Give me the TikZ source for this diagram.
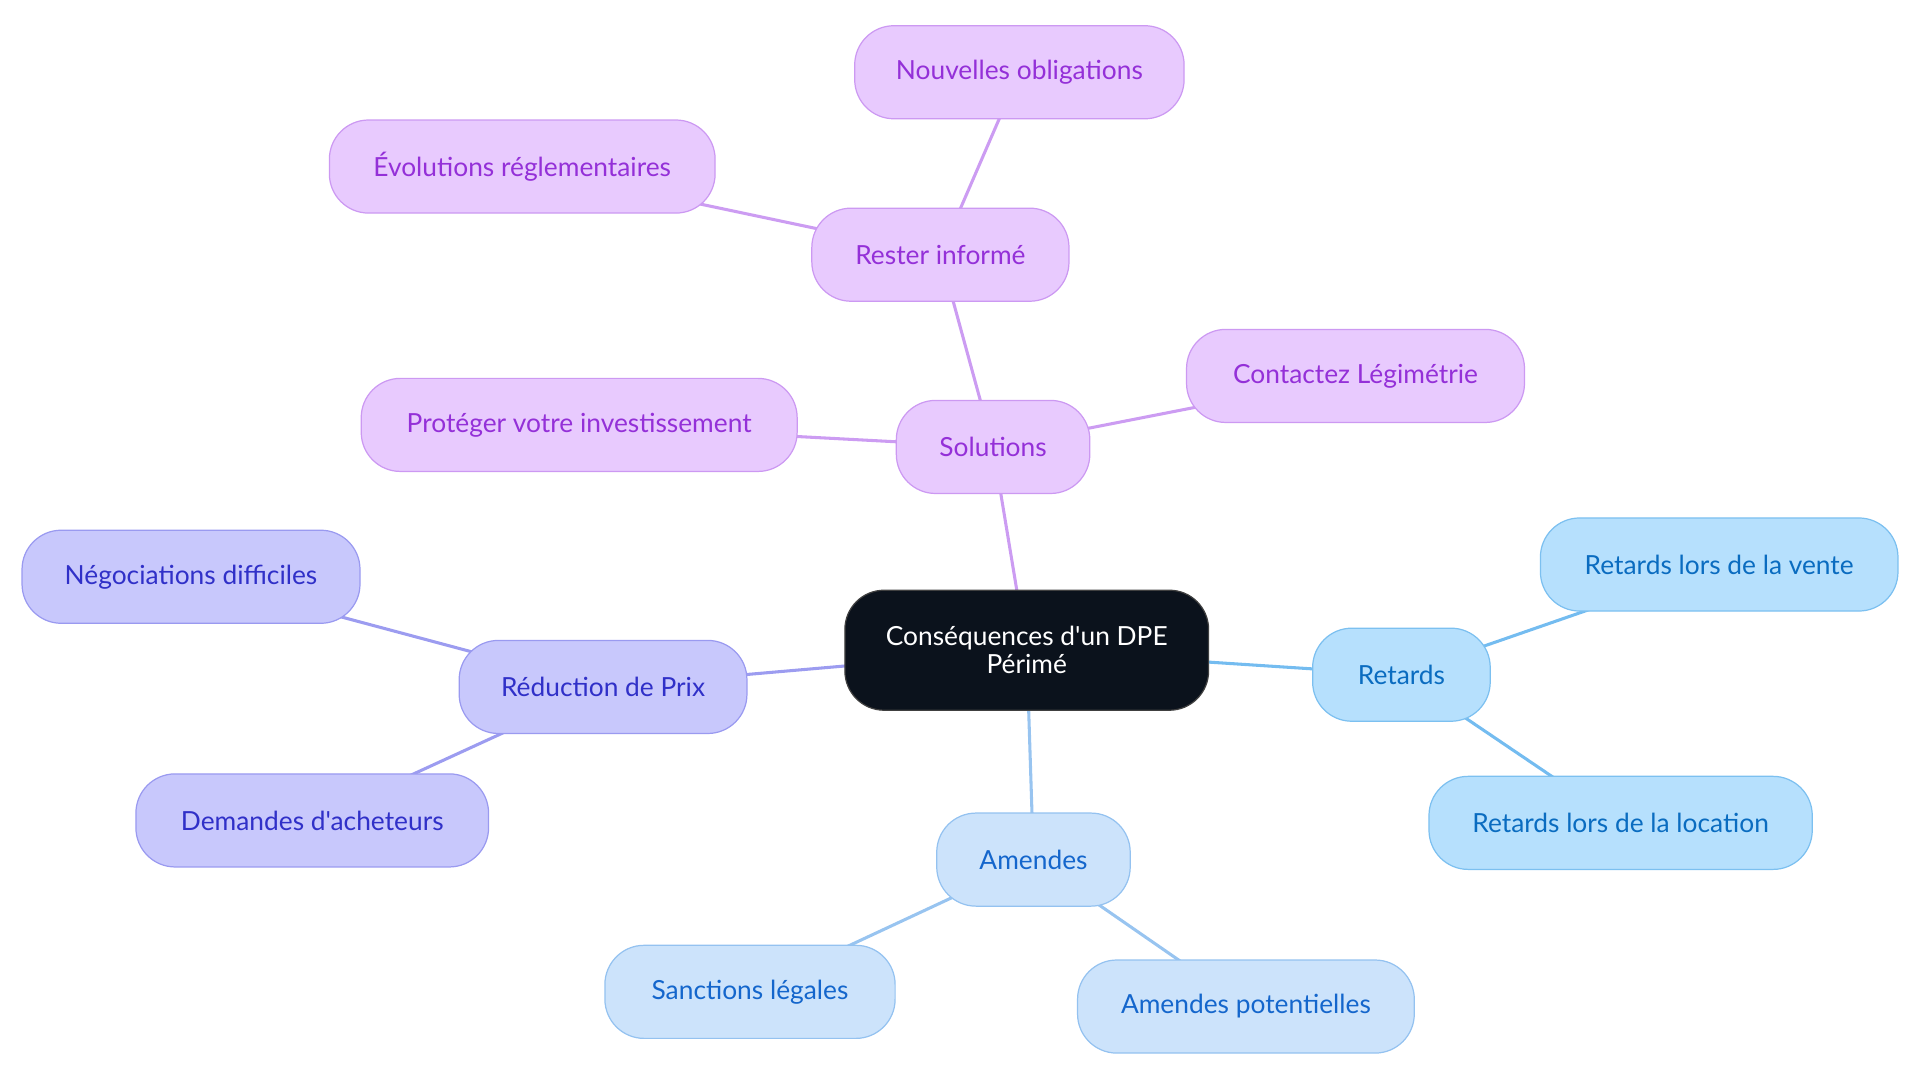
\documentclass[tikz,border=0pt]{standalone}
\usepackage{fontspec}
\setmainfont{Lato}[Ligatures=TeXOff]
\usetikzlibrary{backgrounds}
\definecolor{pfill}{HTML}{E8CAFE}
\definecolor{pdraw}{HTML}{CC99F2}
\definecolor{ptext}{HTML}{9430D8}
\definecolor{pedge}{HTML}{CC9CF2}
\definecolor{vfill}{HTML}{C8C8FC}
\definecolor{vdraw}{HTML}{9A9AF0}
\definecolor{vtext}{HTML}{3030C8}
\definecolor{vedge}{HTML}{9C9CF0}
\definecolor{bfill}{HTML}{B6E0FD}
\definecolor{bdraw}{HTML}{7CC0F0}
\definecolor{btext}{HTML}{0A6CC0}
\definecolor{bedge}{HTML}{74BCF0}
\definecolor{afill}{HTML}{CCE3FB}
\definecolor{adraw}{HTML}{94C2F0}
\definecolor{atext}{HTML}{1466CC}
\definecolor{aedge}{HTML}{98C4F0}
\definecolor{cfill}{HTML}{0B121C}
\tikzset{
  box/.style={rectangle, rounded corners=32pt, minimum height=76pt, line width=1pt,
    inner sep=0pt, font=\fontsize{21.5}{23}\selectfont},
  pbox/.style={box, fill=pfill, draw=pdraw, text=ptext},
  vbox/.style={box, fill=vfill, draw=vdraw, text=vtext},
  bbox/.style={box, fill=bfill, draw=bdraw, text=btext},
  abox/.style={box, fill=afill, draw=adraw, text=atext},
  cbox/.style={box, fill=cfill, draw=black!75, text=white, minimum height=98pt, align=center},
  link/.style={line width=2.5pt},
}
\begin{document}
\begin{tikzpicture}[x=1pt,y=-1pt]
\useasboundingbox (0,0) rectangle (1568,884.45);
\node[cbox, minimum width=297pt] (c) at (838.5,531) {Conséquences d'un DPE\\Périmé};
\node[pbox, minimum width=158pt] (sol) at (811,365) {Solutions};
\node[pbox, minimum width=210pt] (ri) at (768,208) {Rester informé};
\node[pbox, minimum width=269pt] (no) at (832.5,59) {Nouvelles obligations};
\node[pbox, minimum width=315pt] (ev) at (426.5,136) {Évolutions réglementaires};
\node[pbox, minimum width=276pt] (cl) at (1107,307) {Contactez Légimétrie};
\node[pbox, minimum width=356pt] (pv) at (473,347) {Protéger votre investissement};
\node[vbox, minimum width=235pt] (rp) at (492.5,561) {Réduction de Prix};
\node[vbox, minimum width=276pt] (nd) at (156,471) {Négociations difficiles};
\node[vbox, minimum width=288pt] (da) at (255,670) {Demandes d'acheteurs};
\node[bbox, minimum width=145pt] (re) at (1144.5,551) {Retards};
\node[bbox, minimum width=292pt] (rv) at (1404,461) {Retards lors de la vente};
\node[bbox, minimum width=313pt] (rl) at (1323.5,672) {Retards lors de la location};
\node[abox, minimum width=158pt] (am) at (844,702) {Amendes};
\node[abox, minimum width=237pt] (sl) at (612.5,810) {Sanctions légales};
\node[abox, minimum width=275pt] (ap) at (1017.5,822) {Amendes potentielles};
\begin{scope}[on background layer]
\draw[link, pedge] (c.center) -- (sol.center);
\draw[link, pedge] (sol.center) -- (ri.center);
\draw[link, pedge] (sol.center) -- (cl.center);
\draw[link, pedge] (sol.center) -- (pv.center);
\draw[link, pedge] (ri.center) -- (no.center);
\draw[link, pedge] (ri.center) -- (ev.center);
\draw[link, vedge] (c.center) -- (rp.center);
\draw[link, vedge] (rp.center) -- (nd.center);
\draw[link, vedge] (rp.center) -- (da.center);
\draw[link, bedge] (c.center) -- (re.center);
\draw[link, bedge] (re.center) -- (rv.center);
\draw[link, bedge] (re.center) -- (rl.center);
\draw[link, aedge] (c.center) -- (am.center);
\draw[link, aedge] (am.center) -- (sl.center);
\draw[link, aedge] (am.center) -- (ap.center);
\end{scope}
\end{tikzpicture}
\end{document}
